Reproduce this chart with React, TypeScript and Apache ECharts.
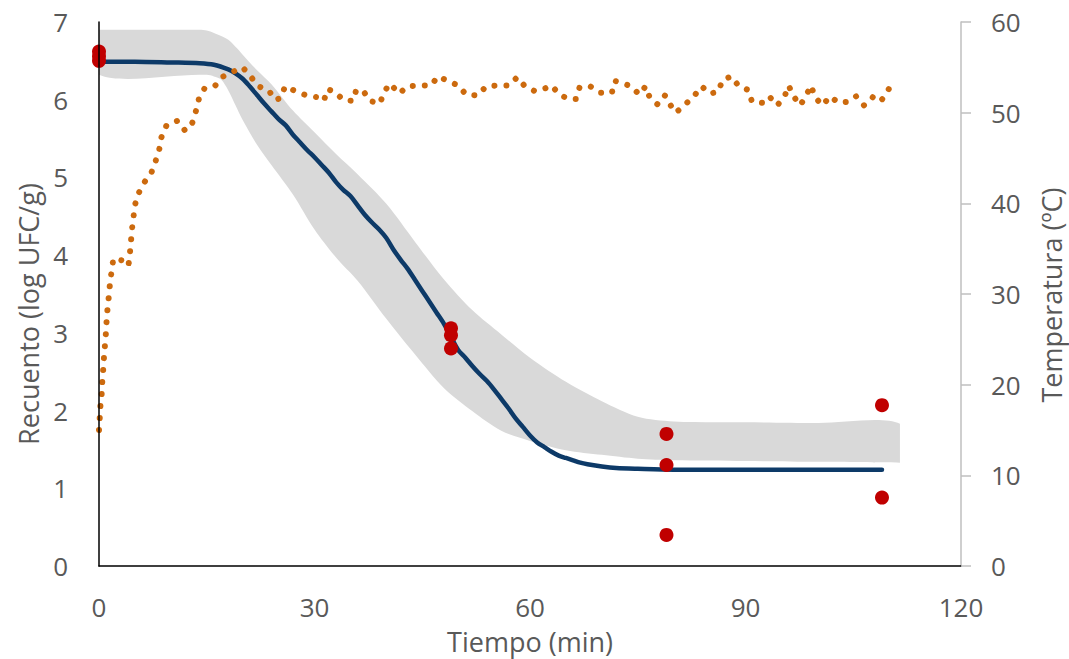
import React, { useEffect, useRef } from "react";
import * as echarts from "echarts";

// Observed counts (log UFC/g) at each sampling time (min)
const obsTime = [0, 0, 0, 49, 49, 49, 79, 79, 79, 109, 109];
const obsValue = [6.62, 6.56, 6.5, 3.06, 2.97, 2.8, 1.7, 1.3, 0.4, 2.07, 0.88];

// Model prediction (log UFC/g)
const modelTime = [
  0, 5, 10, 14, 16, 18, 19, 20, 21, 22, 23, 24, 25, 26, 27, 28, 29, 30, 31, 32, 33, 34, 35, 36, 37, 38,
  39, 40, 41, 42, 43, 44, 45, 46, 47, 48, 49, 50, 51, 52, 53, 54, 55, 56, 57, 58, 59, 60, 61, 62, 63,
  64, 65, 66, 67, 68, 70, 72, 75, 80, 90, 100, 109,
];
const modelValue = [
  6.49, 6.49, 6.48, 6.47, 6.45, 6.39, 6.34, 6.27, 6.17, 6.06, 5.95, 5.85, 5.75, 5.67, 5.55, 5.45, 5.35,
  5.26, 5.16, 5.06, 4.94, 4.84, 4.76, 4.64, 4.52, 4.42, 4.33, 4.22, 4.07, 3.94, 3.82, 3.68, 3.54, 3.4,
  3.26, 3.12, 2.95, 2.78, 2.68, 2.57, 2.47, 2.38, 2.27, 2.15, 2.03, 1.9, 1.79, 1.68, 1.59, 1.53, 1.47,
  1.42, 1.39, 1.36, 1.33, 1.31, 1.28, 1.26, 1.25, 1.24, 1.24, 1.24, 1.24,
];

// Prediction band limits (log UFC/g)
const bandTime = [0, 14, 15, 16, 17, 18, 19, 20, 22, 24, 27, 30, 33, 36, 40, 44, 48, 52, 56, 60, 65, 70, 75, 80, 90, 100, 111.5];
const bandUpper = [
  6.9, 6.9, 6.89, 6.86, 6.82, 6.77, 6.68, 6.58, 6.38, 6.2, 5.86, 5.58, 5.3, 5.04, 4.66, 4.17, 3.69, 3.29,
  2.98, 2.68, 2.37, 2.12, 1.92, 1.86, 1.85, 1.84, 1.83,
];
const bandLower = [
  6.32, 6.32, 6.32, 6.3, 6.26, 6.12, 5.93, 5.74, 5.42, 5.16, 4.78, 4.33, 3.97, 3.67, 3.18, 2.72, 2.29, 1.99,
  1.74, 1.61, 1.49, 1.43, 1.38, 1.36, 1.35, 1.34, 1.33,
];

// Product temperature (ºC)
const tempTime = [
  0, 0.1, 0.2, 0.37, 0.46, 0.6, 0.7, 0.84, 0.97, 1.07, 1.2, 1.39, 1.53, 1.77, 2.0, 3.24, 4.1, 4.3, 4.45,
  4.6, 4.8, 5.0, 5.5, 6.3, 7.3, 7.9, 8.4, 8.7, 9.4, 10.9, 12.0, 13.0, 13.5, 13.9, 14.7, 16.2, 17.3, 18.6,
  20.0, 21.1, 22.2, 23.6, 24.5, 25.3, 25.9, 27.3, 28.9, 30.4, 31.3, 31.8, 32.8, 34.0, 35.4, 35.8, 36.8,
  37.7, 39.1, 39.7, 40.5, 41.8, 42.9, 44.5, 46.2, 47.2, 48.6, 50.0, 51.1, 52.7, 53.9, 55.4, 57.1, 58.2,
  59.3, 60.6, 61.6, 63.0, 64.1, 65.4, 66.4, 66.9, 68.4, 69.8, 71.4, 71.8, 72.7, 74.1, 75.2, 76.1, 76.7,
  77.8, 78.8, 79.5, 80.3, 81.6, 82.8, 83.9, 85.0, 86.2, 86.8, 88.0, 89.1, 90.4, 90.9, 92.3, 93.3, 94.4,
  95.4, 96.0, 96.7, 97.6, 98.4, 99.1, 99.7, 100.7, 101.8, 102.9, 104.3, 105.4, 106.5, 107.7, 108.7,
  109.5, 110.2,
];
const tempValue = [
  15.0, 16.3, 17.7, 19.0, 20.4, 21.8, 23.1, 24.5, 25.8, 27.2, 28.5, 29.9, 31.2, 32.6, 33.9, 33.7, 33.1,
  34.5, 35.8, 37.2, 38.5, 39.8, 41.1, 42.3, 43.4, 44.7, 46.0, 47.3, 48.6, 49.1, 48.0, 48.9, 50.2, 51.5,
  52.7, 53.0, 54.0, 54.5, 55.0, 54.0, 52.9, 52.5, 51.4, 51.6, 52.9, 52.4, 51.9, 51.7, 51.3, 52.6, 52.3,
  51.4, 51.3, 52.5, 52.4, 51.3, 51.0, 52.3, 53.2, 52.1, 52.9, 53.0, 53.0, 54.0, 53.5, 53.0, 52.0, 51.9,
  52.9, 53.0, 53.0, 53.9, 52.9, 52.4, 52.5, 53.0, 52.0, 51.5, 51.5, 52.8, 52.9, 52.2, 52.2, 53.5, 53.3,
  52.9, 52.0, 52.9, 51.6, 50.9, 51.9, 50.9, 50.0, 50.9, 51.8, 52.9, 52.1, 52.3, 53.6, 54.0, 52.9, 52.5,
  51.2, 51.1, 51.8, 50.8, 51.7, 53.0, 51.8, 50.8, 51.8, 53.0, 51.7, 50.8, 51.8, 51.1, 51.2, 51.8, 50.8,
  51.7, 51.2, 51.9, 53.0,
];

// Axis ranges and tick labels
const timeTicks = [0, 30, 60, 90, 120];
const countTicks = [0, 1, 2, 3, 4, 5, 6, 7];
const tempTicks = [0, 10, 20, 30, 40, 50, 60];

const zip = (xs: number[], ys: number[]) =>
  xs.slice(0, Math.min(xs.length, ys.length)).map((x, i) => [x, ys[i]]);

const FONT = "'Open Sans', 'Noto Sans', sans-serif";
const TEXT = "#595959";
const FS = 26;
const TITLE_FS = 27;
const BAND = "#D9D9D9";

export default function App() {
  const ref = useRef<HTMLDivElement>(null);

  useEffect(() => {
    if (!ref.current) return;
    const chart = echarts.init(ref.current, undefined, { renderer: "svg" });

    const option: any = {
      animation: false,
      textStyle: { fontFamily: FONT },
      grid: { left: 99, right: 108, top: 22, bottom: 93, containLabel: false },
      xAxis: {
        type: "value",
        z: 10,
        min: timeTicks[0],
        max: timeTicks[timeTicks.length - 1],
        interval: timeTicks[1] - timeTicks[0],
        axisLine: { show: true, onZero: false, lineStyle: { color: "#000000", width: 1.5 } },
        axisTick: { show: false },
        splitLine: { show: false },
        axisLabel: { color: TEXT, fontSize: FS, fontFamily: FONT, margin: 28 },
      },
      yAxis: [
        {
          type: "value",
          z: 10,
          min: countTicks[0],
          max: countTicks[countTicks.length - 1],
          interval: 1,
          axisLine: { show: true, onZero: false, lineStyle: { color: "#000000", width: 1.5 } },
          axisTick: { show: false },
          splitLine: { show: false },
          axisLabel: { color: TEXT, fontSize: FS, fontFamily: FONT, margin: 31 },
        },
        {
          type: "value",
          z: 10,
          position: "right",
          min: tempTicks[0],
          max: tempTicks[tempTicks.length - 1],
          interval: 10,
          axisLine: { show: true, onZero: false, lineStyle: { color: "#BFBFBF", width: 1.5 } },
          axisTick: { show: true, inside: false, length: 10, lineStyle: { color: "#BFBFBF", width: 1.5 } },
          splitLine: { show: false },
          axisLabel: { color: TEXT, fontSize: FS, fontFamily: FONT, margin: 30 },
        },
      ],
      graphic: [
        {
          type: "text",
          x: 28,
          y: 314,
          rotation: Math.PI / 2,
          style: {
            text: "Recuento (log UFC/g)",
            fill: TEXT,
            font: `${TITLE_FS}px ${FONT}`,
            textAlign: "center",
            textVerticalAlign: "middle",
          },
        },
        {
          type: "text",
          x: 1051,
          y: 295,
          rotation: Math.PI / 2,
          style: {
            text: "Temperatura (ºC)",
            fill: TEXT,
            font: `${TITLE_FS}px ${FONT}`,
            textAlign: "center",
            textVerticalAlign: "middle",
          },
        },
        {
          type: "text",
          x: 530,
          y: 641,
          style: {
            text: "Tiempo (min)",
            fill: TEXT,
            font: `${TITLE_FS}px ${FONT}`,
            textAlign: "center",
            textVerticalAlign: "middle",
          },
        },
      ],
      series: [
        {
          name: "Intervalo",
          type: "custom",
          xAxisIndex: 0,
          yAxisIndex: 0,
          silent: true,
          z: 1,
          data: [[0, 0]],
          renderItem: (_params: any, api: any) => {
            // upper limit left to right, then lower limit back, as one closed shape
            const pts: number[][] = [];
            zip(bandTime, bandUpper).forEach((p) => pts.push(api.coord(p)));
            zip(bandTime, bandLower)
              .reverse()
              .forEach((p) => pts.push(api.coord(p)));
            const xs = pts.map((p) => p[0]);
            const ys = pts.map((p) => p[1]);
            const bounds = [
              [Math.min(...xs), Math.min(...ys)],
              [Math.max(...xs), Math.max(...ys)],
            ];
            return {
              type: "polygon",
              shape: { points: pts, smooth: 0.3, smoothConstraint: bounds },
              style: { fill: BAND },
            };
          },
        },
        {
          name: "Modelo",
          type: "line",
          yAxisIndex: 0,
          z: 2,
          data: zip(modelTime, modelValue),
          smooth: 0.3,
          showSymbol: false,
          symbol: "none",
          lineStyle: { color: "#0D3A68", width: 4.5, cap: "round", join: "round" },
        },
        {
          name: "Temperatura",
          type: "line",
          yAxisIndex: 1,
          z: 3,
          data: zip(tempTime, tempValue),
          showSymbol: false,
          symbol: "none",
          lineStyle: { color: "#CC6A0E", width: 6, type: [0.01, 12], cap: "round", join: "round" },
        },
        {
          name: "Observado",
          type: "scatter",
          yAxisIndex: 0,
          z: 4,
          data: zip(obsTime, obsValue),
          symbol: "circle",
          symbolSize: 14,
          itemStyle: { color: "#C00000", opacity: 1 },
        },
      ],
    };

    chart.setOption(option);
    return () => chart.dispose();
  }, []);

  return (
    <div
      ref={ref}
      style={{ position: "absolute", left: 0, top: 0, width: 1069, height: 659, background: "#ffffff" }}
    />
  );
}
